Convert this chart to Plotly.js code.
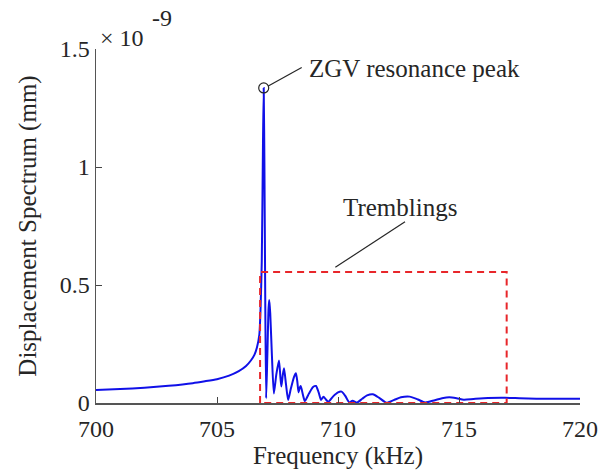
<!DOCTYPE html>
<html>
<head>
<meta charset="utf-8">
<script src="https://cdn.plot.ly/plotly-3.0.1.min.js"></script>
<style>html,body{margin:0;padding:0;background:#fff;}#chart{width:607px;height:475px;}</style>
</head>
<body>
<div id="chart"></div>
<script>
// Frequency (kHz)
var freq = [700.0,701.0,702.0,703.0,704.0,704.5,705.0,705.5,705.9,706.2,706.4,706.55,706.65,706.75,706.8,706.85,706.9,706.93,706.96,706.99,707.03,707.08,707.13,707.16,707.2,707.27,707.35,707.45,707.56,707.62,707.66,707.72,707.77,707.85,707.94,708.05,708.18,708.26,708.32,708.37,708.42,708.46,708.55,708.63,708.8,708.97,709.09,709.2,709.3,709.4,709.5,709.6,709.8,710.0,710.15,710.3,710.47,710.6,710.79,711.0,711.2,711.44,711.7,712.0,712.3,712.6,712.96,713.3,713.6,714.0,714.3,714.6,714.9,715.2,715.6,716.2,716.9,717.5,718.2,719.0,720.0];
// Displacement spectrum (x 1e-9 mm)
var disp = [0.055,0.059,0.065,0.073,0.084,0.092,0.101,0.116,0.135,0.157,0.180,0.205,0.235,0.29,0.40,0.60,1.10,1.335,1.0,0.5,0.02,0.2,0.40,0.436,0.38,0.2,0.04,0.12,0.18,0.11,0.07,0.12,0.147,0.08,0.013,0.06,0.11,0.126,0.09,0.045,0.065,0.072,0.035,0.008,0.04,0.068,0.072,0.045,0.013,0.027,0.015,0.005,0.028,0.045,0.048,0.03,0.002,0.01,0.002,0.018,0.032,0.037,0.022,0.001,0.012,0.024,0.027,0.015,0.002,0.012,0.02,0.024,0.02,0.014,0.017,0.021,0.022,0.02,0.018,0.018,0.018];
// ZGV peak
var peakFreq = [706.93];
var peakDisp = [1.335];
// Tremblings box
var boxFreq = [706.78, 706.78, 716.97, 716.97, 706.78];
var boxDisp = [0, 0.555, 0.555, 0, 0];
// Tick labels
var xTicks = [700, 705, 710, 715, 720];
var xTickText = ['700', '705', '710', '715', '720'];
var yTicks = [0, 0.5, 1, 1.5];
var yTickText = ['0', '0.5', '1', '1.5'];

var FONT = 'Times New Roman, Liberation Serif, DejaVu Serif, serif';
var TXT = '#262626';

var traces = [
  {x: freq, y: disp, type: 'scatter', mode: 'lines', line: {color: '#1010e8', width: 2, shape: 'spline', smoothing: 0.6}, hoverinfo: 'skip'},
  {x: boxFreq, y: boxDisp, type: 'scatter', mode: 'lines', line: {color: '#e8262a', width: 2, dash: '7px,5px'}, hoverinfo: 'skip'},
  {x: peakFreq, y: peakDisp, type: 'scatter', mode: 'markers', marker: {symbol: 'circle-open', size: 10, color: '#262626', line: {width: 1.2}}, hoverinfo: 'skip'}
];

var layout = {
  width: 607, height: 475,
  margin: {l: 96, r: 27, t: 49, b: 72},
  paper_bgcolor: '#fff', plot_bgcolor: '#fff',
  showlegend: false,
  font: {family: FONT, size: 24, color: TXT},
  xaxis: {
    range: [700, 720], tickvals: xTicks, ticktext: xTickText,
    ticks: 'inside', ticklen: 6, tickcolor: '#444', tickwidth: 1,
    showline: true, linecolor: '#555', linewidth: 1.5, showgrid: false, zeroline: false,
    ticklabelstandoff: 4,
    tickfont: {family: FONT, size: 24, color: TXT},
    title: {text: 'Frequency (kHz)', font: {family: FONT, size: 25, color: TXT}, standoff: 4}
  },
  yaxis: {
    range: [0, 1.5], tickvals: yTicks, ticktext: yTickText,
    ticks: 'inside', ticklen: 6, tickcolor: '#444', tickwidth: 1,
    showline: true, linecolor: '#555', linewidth: 1.5, showgrid: false, zeroline: false,
    tickfont: {family: FONT, size: 24, color: TXT},
    title: {text: 'Displacement Spectrum (mm)', font: {family: FONT, size: 25, color: TXT}, standoff: 16}
  },
  shapes: [
    {type: 'line', xref: 'x', yref: 'y', x0: 707.12, y0: 1.343, x1: 708.50, y1: 1.422, line: {color: TXT, width: 1.2}},
    {type: 'line', xref: 'x', yref: 'y', x0: 709.89, y0: 0.575, x1: 712.77, y1: 0.768, line: {color: TXT, width: 1.2}}
  ],
  annotations: [
    {xref: 'x', yref: 'y', x: 708.72, y: 1.419, text: 'ZGV resonance peak', showarrow: false, xanchor: 'left', yanchor: 'middle', font: {family: FONT, size: 25, color: TXT}},
    {xref: 'x', yref: 'y', x: 712.56, y: 0.83, text: 'Tremblings', showarrow: false, xanchor: 'center', yanchor: 'middle', font: {family: FONT, size: 25, color: TXT}},
    {xref: 'paper', yref: 'paper', x: 0.004, y: 1.031, text: '× 10', showarrow: false, xanchor: 'left', yanchor: 'middle', font: {family: FONT, size: 24, color: TXT}},
    {xref: 'paper', yref: 'paper', x: 0.112, y: 1.088, text: '-9', showarrow: false, xanchor: 'left', yanchor: 'middle', font: {family: FONT, size: 24, color: TXT}}
  ]
};

Plotly.newPlot('chart', traces, layout, {displayModeBar: false, staticPlot: true});
</script>
</body>
</html>
